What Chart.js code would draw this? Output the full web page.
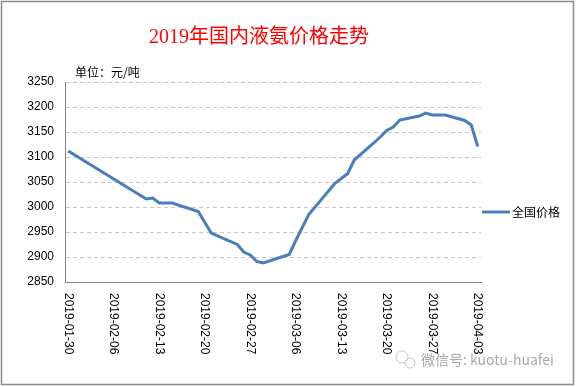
<!DOCTYPE html>
<html>
<head>
<meta charset="utf-8">
<script src="https://cdn.jsdelivr.net/npm/chart.js@4"></script>
<style>
    body { margin: 0; background: #fff; }
    canvas { display: block; }
</style>
</head>
<body>
<canvas id="grafico" width="576" height="387"></canvas>
<script>
// price points (only where the line bends)
const datas = [
    "2019-01-30", "2019-02-11", "2019-02-12", "2019-02-13", "2019-02-15", "2019-02-19",
    "2019-02-21", "2019-02-25", "2019-02-26", "2019-02-27", "2019-02-28", "2019-03-01",
    "2019-03-05", "2019-03-06", "2019-03-08", "2019-03-12", "2019-03-14", "2019-03-15",
    "2019-03-18", "2019-03-19", "2019-03-20", "2019-03-21", "2019-03-22", "2019-03-25",
    "2019-03-26", "2019-03-27", "2019-03-29", "2019-04-01", "2019-04-02", "2019-04-03"
];
const precos = [
    3112, 3016, 3018, 3008, 3008, 2991,
    2948, 2925, 2910, 2904, 2891, 2888,
    2905, 2933, 2985, 3047, 3067, 3094,
    3128, 3140, 3153, 3160, 3174, 3182,
    3188, 3184, 3184, 3173, 3164, 3121
];
const rotulosX = [
    "2019-01-30", "2019-02-06", "2019-02-13", "2019-02-20", "2019-02-27",
    "2019-03-06", "2019-03-13", "2019-03-20", "2019-03-27", "2019-04-03"
];
const serie = "全国价格";
const titulo = "2019年国内液氨价格走势";
const unidade = "单位：元/吨";
const marcaDagua = "微信号: kuotu-huafei";

const inicio = Date.parse(datas[0]);
const dia = d => Math.round((Date.parse(d) - inicio) / 86400000);
const pontos = datas.map((d, i) => ({ x: dia(d), y: precos[i] }));

const azul = "#4a7ebb";

const extras = {
    id: "extras",
    afterDraw(chart) {
        const c = chart.ctx;
        const xs = chart.scales.x;
        c.save();

        // moldura
        c.strokeStyle = "#8c8c8c";
        c.lineWidth = 1.5;
        c.strokeRect(1.5, 1.5, 572, 383);

        // titulo
        c.fillStyle = "#ff0000";
        c.font = '20px "Liberation Serif", "Noto Sans CJK SC"';
        c.textAlign = "center";
        c.textBaseline = "middle";
        c.fillText(titulo, 259, 38);

        // unidade
        c.fillStyle = "#000";
        c.font = '12px "Noto Sans CJK SC"';
        c.textAlign = "left";
        c.fillText(unidade, 75, 72);

        // rotulos do eixo x, girados
        c.font = '12px "Liberation Sans"';
        c.textBaseline = "middle";
        rotulosX.forEach(r => {
            const px = xs.getPixelForValue(dia(r));
            c.save();
            c.translate(px, 293);
            c.rotate(Math.PI / 2);
            c.fillText(r, 0, 0);
            c.restore();
        });

        // legenda
        c.strokeStyle = azul;
        c.lineWidth = 3;
        c.beginPath();
        c.moveTo(482, 212);
        c.lineTo(510, 212);
        c.stroke();
        c.fillStyle = "#000";
        c.font = '12px "Noto Sans CJK SC"';
        c.fillText(serie, 512, 212);

        // marca d'agua
        c.strokeStyle = "#c8c8c8";
        c.lineWidth = 1;
        c.beginPath();
        c.arc(402, 357, 6, 0, Math.PI * 2);
        c.stroke();
        c.beginPath();
        c.arc(410, 363, 5, 0, Math.PI * 2);
        c.stroke();
        c.fillStyle = "#a8a8a8";
        c.font = '14px "Noto Sans CJK SC"';
        c.fillText(marcaDagua, 421, 360);

        c.restore();
    }
};

new Chart(document.getElementById("grafico").getContext("2d"), {
    type: "line",
    data: {
        datasets: [{
            label: serie,
            data: pontos,
            borderColor: azul,
            borderWidth: 3,
            pointRadius: 0,
            tension: 0,
            fill: false
        }]
    },
    options: {
        responsive: false,
        animation: false,
        layout: { padding: { top: 82, bottom: 105, left: 0, right: 95 } },
        plugins: {
            legend: { display: false },
            tooltip: { enabled: false }
        },
        scales: {
            x: {
                type: "linear",
                min: -0.5,
                max: 63.5,
                ticks: { display: false },
                grid: { display: false },
                border: { display: true, color: "#868686", width: 1 },
                afterFit: s => { s.height = 0; }
            },
            y: {
                min: 2850,
                max: 3250,
                ticks: {
                    stepSize: 50,
                    color: "#000",
                    padding: 11,
                    font: { family: "Liberation Sans", size: 12 },
                    callback: v => String(v)
                },
                grid: { color: "#c8c8c8", drawTicks: false },
                border: { display: true, color: "#868686", width: 1, dash: [4, 3] },
                afterFit: s => { s.width = 65; }
            }
        }
    },
    plugins: [extras]
});
</script>
</body>
</html>
